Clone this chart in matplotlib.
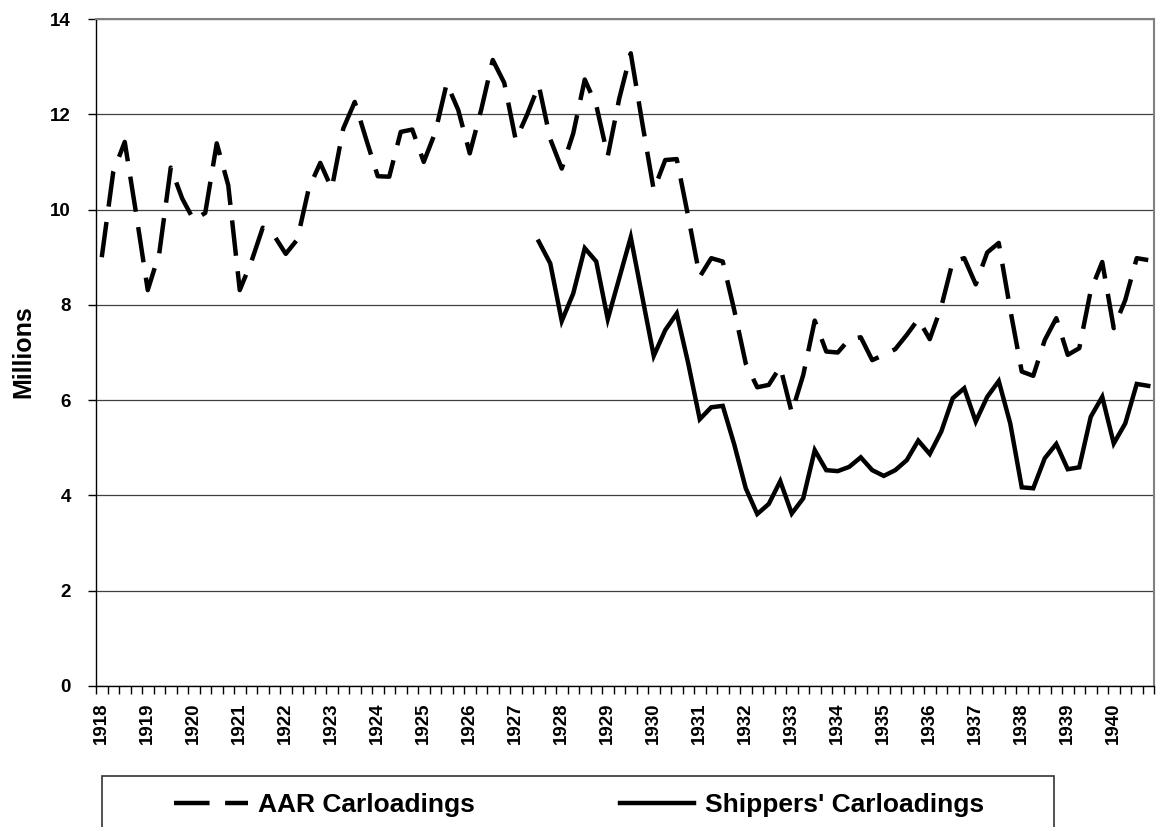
import numpy as np
import matplotlib
matplotlib.use("Agg")
import matplotlib.pyplot as plt
from matplotlib.lines import Line2D
from matplotlib.patches import Rectangle

plt.rcParams['font.family'] = ['Liberation Sans', 'DejaVu Sans']
plt.rcParams['font.weight'] = 'bold'

# quarterly data, 1918Q1 - 1940Q4 (millions of cars)
years = list(range(1918, 1941))

aar = [9.00, 10.79, 11.42, 9.90, 8.31, 9.08, 10.88, 10.23,
       9.78, 9.93, 11.39, 10.51, 8.31, 8.90, 9.62, 9.45,
       9.07, 9.37, 10.44, 10.98, 10.44, 11.70, 12.26, 11.47,
       10.70, 10.69, 11.63, 11.68, 11.00, 11.62, 12.65, 12.09,
       11.18, 12.10, 13.14, 12.66, 11.46, 12.00, 12.61, 11.48,
       10.86, 11.60, 12.73, 12.19, 11.12, 12.33, 13.28, 11.82,
       10.41, 11.04, 11.06, 9.85, 8.59, 8.98, 8.91, 7.89,
       6.77, 6.27, 6.32, 6.70, 5.74, 6.53, 7.67, 7.02,
       7.00, 7.28, 7.32, 6.84, 6.95, 7.07, 7.37, 7.70,
       7.28, 7.96, 8.91, 8.98, 8.43, 9.10, 9.30, 7.90,
       6.60, 6.51, 7.26, 7.72, 6.95, 7.09, 8.30, 8.90,
       7.51, 8.10, 8.98, 8.94]

# shippers' series starts 1927Q3
shippers = [np.nan] * 38 + [
       9.33, 8.87,
       7.66, 8.24, 9.19, 8.91, 7.70, 8.56, 9.42, 8.17,
       6.93, 7.47, 7.82, 6.77, 5.60, 5.85, 5.88, 5.07,
       4.15, 3.61, 3.82, 4.30, 3.62, 3.94, 4.95, 4.53,
       4.51, 4.60, 4.80, 4.53, 4.41, 4.53, 4.74, 5.15,
       4.87, 5.34, 6.04, 6.25, 5.55, 6.07, 6.40, 5.51,
       4.17, 4.15, 4.78, 5.08, 4.55, 4.59, 5.65, 6.07,
       5.09, 5.51, 6.34, 6.30]

x = np.arange(len(aar))

W, H = 1157, 827
fig = plt.figure(figsize=(W / 100, H / 100), dpi=100)
ax = fig.add_axes([96 / W, 1 - 686 / H, (1154 - 96) / W, (686 - 19) / H])

lw = 3.2
ax.plot(x, aar, color='black', lw=lw, dashes=(8, 3.5), solid_capstyle='butt',
        dash_capstyle='butt', label='AAR Carloadings')
ax.plot(x, shippers, color='black', lw=lw, solid_joinstyle='miter',
        label="Shippers' Carloadings")

ax.set_xlim(-0.5, len(aar) - 0.5)
ax.set_ylim(0, 14)
ax.set_yticks(range(0, 15, 2))
ax.yaxis.grid(True, color='#404040', lw=0.9)
ax.set_axisbelow(True)

# ticks between quarters, year labels on the first quarter
ax.set_xticks(np.arange(-0.5, len(aar), 1))
ax.set_xticklabels([])
ax.set_xticks(np.arange(0, len(aar), 4), [str(y) for y in years], minor=True)
ax.tick_params(axis='x', which='major', direction='out', length=6, width=1)
ax.tick_params(axis='x', which='minor', length=0, pad=12, labelrotation=90,
               labelsize=13.5)
ax.tick_params(axis='y', direction='out', length=6, width=1, pad=12,
               labelsize=13.5)

for s in ['top', 'right']:
    ax.spines[s].set_color('#808080')
    ax.spines[s].set_linewidth(1.5)
for s in ['left', 'bottom']:
    ax.spines[s].set_color('black')
    ax.spines[s].set_linewidth(1)

fig.text(23 / W, 1 - 352 / H, 'Millions', rotation=90, ha='center',
         va='center', fontsize=18, fontweight='bold')

handles = [Line2D([], [], color='black', lw=lw, dashes=(8, 3.5)),
           Line2D([], [], color='black', lw=lw)]
fig.legend(handles, ['AAR Carloadings', "Shippers' Carloadings"], ncol=2,
           loc='center left', bbox_to_anchor=(174 / W, 1 - 805 / H),
           frameon=False, fontsize=19, handlelength=2.8, handletextpad=0.4,
           columnspacing=5.5, borderpad=0, borderaxespad=0)
fig.add_artist(Rectangle((102 / W, -0.05), (1054 - 102) / W, 0.05 + (827 - 776) / H,
                         transform=fig.transFigure, fill=False,
                         ec='#333333', lw=1.2))

fig.savefig('out.png', dpi=100)
